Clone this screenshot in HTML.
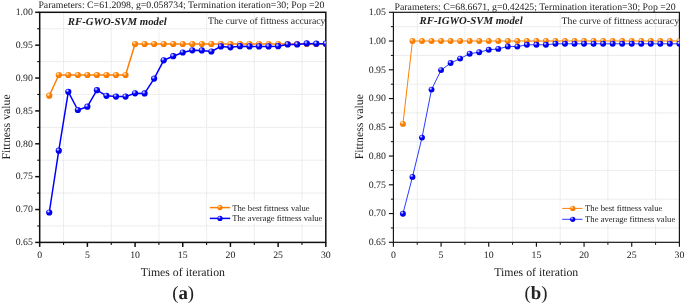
<!DOCTYPE html>
<html><head><meta charset="utf-8"><style>
html,body{margin:0;padding:0;background:#fff;}
svg{display:block;will-change:transform;}
text{font-family:"Liberation Serif", serif;fill:#222;text-rendering:geometricPrecision;}
.title{font-size:9.8px;}
.model{font-size:10.75px;font-weight:bold;font-style:italic;}
.curve{font-size:9.75px;}
.tick{font-size:9.8px;}
.leg{font-size:8.62px;}
.axt{font-size:11.8px;}
.lab{font-size:18.8px;}
.grid{stroke:#d8d8d8;stroke-width:0.9;stroke-dasharray:1 1;}
.ax{stroke:#111;}
</style></head><body>
<svg width="685" height="305" viewBox="0 0 685 305">
<defs>
<radialGradient id="go" cx="0.38" cy="0.35" r="0.65" fx="0.35" fy="0.3">
<stop offset="0" stop-color="#fff4e8"/><stop offset="0.22" stop-color="#ffc080"/><stop offset="0.45" stop-color="#ff8000"/><stop offset="1" stop-color="#f57800"/>
</radialGradient>
<radialGradient id="gb" cx="0.38" cy="0.35" r="0.65" fx="0.35" fy="0.3">
<stop offset="0" stop-color="#f0f0ff"/><stop offset="0.22" stop-color="#8080ff"/><stop offset="0.45" stop-color="#0000ff"/><stop offset="1" stop-color="#0000e0"/>
</radialGradient>
</defs>
<rect width="685" height="305" fill="#fff"/>
<line x1="63.54" y1="12.3" x2="63.54" y2="242.4" class="grid"/>
<line x1="111.23" y1="12.3" x2="111.23" y2="242.4" class="grid"/>
<line x1="158.91" y1="12.3" x2="158.91" y2="242.4" class="grid"/>
<line x1="206.59" y1="12.3" x2="206.59" y2="242.4" class="grid"/>
<line x1="254.28" y1="12.3" x2="254.28" y2="242.4" class="grid"/>
<line x1="301.96" y1="12.3" x2="301.96" y2="242.4" class="grid"/>
<line x1="39.7" y1="225.96" x2="325.8" y2="225.96" class="grid"/>
<line x1="39.7" y1="193.09" x2="325.8" y2="193.09" class="grid"/>
<line x1="39.7" y1="160.22" x2="325.8" y2="160.22" class="grid"/>
<line x1="39.7" y1="127.35" x2="325.8" y2="127.35" class="grid"/>
<line x1="39.7" y1="94.48" x2="325.8" y2="94.48" class="grid"/>
<line x1="39.7" y1="61.61" x2="325.8" y2="61.61" class="grid"/>
<line x1="39.7" y1="28.74" x2="325.8" y2="28.74" class="grid"/>
<line x1="39.7" y1="242.4" x2="39.7" y2="246.9" class="ax" stroke-width="1.5"/>
<line x1="63.54" y1="242.4" x2="63.54" y2="244.9" class="ax" stroke-width="1.1"/>
<text x="39.7" y="257.8" class="tick" text-anchor="middle">0</text>
<line x1="87.38" y1="242.4" x2="87.38" y2="246.9" class="ax" stroke-width="1.5"/>
<line x1="111.23" y1="242.4" x2="111.23" y2="244.9" class="ax" stroke-width="1.1"/>
<text x="87.38" y="257.8" class="tick" text-anchor="middle">5</text>
<line x1="135.07" y1="242.4" x2="135.07" y2="246.9" class="ax" stroke-width="1.5"/>
<line x1="158.91" y1="242.4" x2="158.91" y2="244.9" class="ax" stroke-width="1.1"/>
<text x="135.07" y="257.8" class="tick" text-anchor="middle">10</text>
<line x1="182.75" y1="242.4" x2="182.75" y2="246.9" class="ax" stroke-width="1.5"/>
<line x1="206.59" y1="242.4" x2="206.59" y2="244.9" class="ax" stroke-width="1.1"/>
<text x="182.75" y="257.8" class="tick" text-anchor="middle">15</text>
<line x1="230.43" y1="242.4" x2="230.43" y2="246.9" class="ax" stroke-width="1.5"/>
<line x1="254.28" y1="242.4" x2="254.28" y2="244.9" class="ax" stroke-width="1.1"/>
<text x="230.43" y="257.8" class="tick" text-anchor="middle">20</text>
<line x1="278.12" y1="242.4" x2="278.12" y2="246.9" class="ax" stroke-width="1.5"/>
<line x1="301.96" y1="242.4" x2="301.96" y2="244.9" class="ax" stroke-width="1.1"/>
<text x="278.12" y="257.8" class="tick" text-anchor="middle">25</text>
<line x1="325.8" y1="242.4" x2="325.8" y2="246.9" class="ax" stroke-width="1.5"/>
<text x="325.8" y="257.8" class="tick" text-anchor="middle">30</text>
<line x1="35.2" y1="242.4" x2="39.7" y2="242.4" class="ax" stroke-width="1.5"/>
<line x1="37.2" y1="225.96" x2="39.7" y2="225.96" class="ax" stroke-width="1.1"/>
<text x="32.8" y="245.2" class="tick" text-anchor="end">0.65</text>
<line x1="35.2" y1="209.53" x2="39.7" y2="209.53" class="ax" stroke-width="1.5"/>
<line x1="37.2" y1="193.09" x2="39.7" y2="193.09" class="ax" stroke-width="1.1"/>
<text x="32.8" y="212.33" class="tick" text-anchor="end">0.70</text>
<line x1="35.2" y1="176.66" x2="39.7" y2="176.66" class="ax" stroke-width="1.5"/>
<line x1="37.2" y1="160.22" x2="39.7" y2="160.22" class="ax" stroke-width="1.1"/>
<text x="32.8" y="179.46" class="tick" text-anchor="end">0.75</text>
<line x1="35.2" y1="143.79" x2="39.7" y2="143.79" class="ax" stroke-width="1.5"/>
<line x1="37.2" y1="127.35" x2="39.7" y2="127.35" class="ax" stroke-width="1.1"/>
<text x="32.8" y="146.59" class="tick" text-anchor="end">0.80</text>
<line x1="35.2" y1="110.91" x2="39.7" y2="110.91" class="ax" stroke-width="1.5"/>
<line x1="37.2" y1="94.48" x2="39.7" y2="94.48" class="ax" stroke-width="1.1"/>
<text x="32.8" y="113.71" class="tick" text-anchor="end">0.85</text>
<line x1="35.2" y1="78.04" x2="39.7" y2="78.04" class="ax" stroke-width="1.5"/>
<line x1="37.2" y1="61.61" x2="39.7" y2="61.61" class="ax" stroke-width="1.1"/>
<text x="32.8" y="80.84" class="tick" text-anchor="end">0.90</text>
<line x1="35.2" y1="45.17" x2="39.7" y2="45.17" class="ax" stroke-width="1.5"/>
<line x1="37.2" y1="28.74" x2="39.7" y2="28.74" class="ax" stroke-width="1.1"/>
<text x="32.8" y="47.97" class="tick" text-anchor="end">0.95</text>
<line x1="35.2" y1="12.3" x2="39.7" y2="12.3" class="ax" stroke-width="1.5"/>
<text x="32.8" y="15.1" class="tick" text-anchor="end">1.00</text>
<rect x="207.5" y="200.5" width="117" height="23.5" fill="#fff"/>
<rect x="39.7" y="12.3" width="286.1" height="230.1" fill="none" class="ax" stroke-width="1.5"/>
<clipPath id="ca"><rect x="39.7" y="12.3" width="286.1" height="230.1"/></clipPath>
<g clip-path="url(#ca)"><polyline points="49.24,95.7 58.77,75 68.31,75 77.85,75 87.38,75 96.92,75 106.46,75 115.99,75 125.53,75 135.07,44 144.6,44 154.14,44 163.68,44 173.21,44 182.75,44 192.29,44 201.82,44 211.36,44 220.9,44 230.43,44 239.97,44 249.51,44 259.04,44 268.58,44 278.12,44 287.65,44 297.19,44 306.73,44 316.26,44 325.8,44" fill="none" stroke="#ff8000" stroke-width="1.5" stroke-linejoin="round"/>
<circle cx="49.24" cy="95.7" r="3.1" fill="url(#go)"/>
<circle cx="58.77" cy="75" r="3.1" fill="url(#go)"/>
<circle cx="68.31" cy="75" r="3.1" fill="url(#go)"/>
<circle cx="77.85" cy="75" r="3.1" fill="url(#go)"/>
<circle cx="87.38" cy="75" r="3.1" fill="url(#go)"/>
<circle cx="96.92" cy="75" r="3.1" fill="url(#go)"/>
<circle cx="106.46" cy="75" r="3.1" fill="url(#go)"/>
<circle cx="115.99" cy="75" r="3.1" fill="url(#go)"/>
<circle cx="125.53" cy="75" r="3.1" fill="url(#go)"/>
<circle cx="135.07" cy="44" r="3.1" fill="url(#go)"/>
<circle cx="144.6" cy="44" r="3.1" fill="url(#go)"/>
<circle cx="154.14" cy="44" r="3.1" fill="url(#go)"/>
<circle cx="163.68" cy="44" r="3.1" fill="url(#go)"/>
<circle cx="173.21" cy="44" r="3.1" fill="url(#go)"/>
<circle cx="182.75" cy="44" r="3.1" fill="url(#go)"/>
<circle cx="192.29" cy="44" r="3.1" fill="url(#go)"/>
<circle cx="201.82" cy="44" r="3.1" fill="url(#go)"/>
<circle cx="211.36" cy="44" r="3.1" fill="url(#go)"/>
<circle cx="220.9" cy="44" r="3.1" fill="url(#go)"/>
<circle cx="230.43" cy="44" r="3.1" fill="url(#go)"/>
<circle cx="239.97" cy="44" r="3.1" fill="url(#go)"/>
<circle cx="249.51" cy="44" r="3.1" fill="url(#go)"/>
<circle cx="259.04" cy="44" r="3.1" fill="url(#go)"/>
<circle cx="268.58" cy="44" r="3.1" fill="url(#go)"/>
<circle cx="278.12" cy="44" r="3.1" fill="url(#go)"/>
<circle cx="287.65" cy="44" r="3.1" fill="url(#go)"/>
<circle cx="297.19" cy="44" r="3.1" fill="url(#go)"/>
<circle cx="306.73" cy="44" r="3.1" fill="url(#go)"/>
<circle cx="316.26" cy="44" r="3.1" fill="url(#go)"/>
<circle cx="325.8" cy="44" r="3.1" fill="url(#go)"/>
</g>
<g clip-path="url(#ca)"><polyline points="49.24,212.5 58.77,150.7 68.31,91.8 77.85,110 87.38,106.7 96.92,90.2 106.46,95.8 115.99,96.6 125.53,96.6 135.07,93.3 144.6,93.4 154.14,78.6 163.68,60.3 173.21,56.2 182.75,52.5 192.29,50.3 201.82,50.4 211.36,51.5 220.9,46.4 230.43,47.3 239.97,46.2 249.51,46.4 259.04,46.4 268.58,46.4 278.12,46.2 287.65,44.4 297.19,44.4 306.73,43.4 316.26,43.7 325.8,43.7" fill="none" stroke="#0000ff" stroke-width="1.5" stroke-linejoin="round"/>
<circle cx="49.24" cy="212.5" r="3.1" fill="url(#gb)"/>
<circle cx="58.77" cy="150.7" r="3.1" fill="url(#gb)"/>
<circle cx="68.31" cy="91.8" r="3.1" fill="url(#gb)"/>
<circle cx="77.85" cy="110" r="3.1" fill="url(#gb)"/>
<circle cx="87.38" cy="106.7" r="3.1" fill="url(#gb)"/>
<circle cx="96.92" cy="90.2" r="3.1" fill="url(#gb)"/>
<circle cx="106.46" cy="95.8" r="3.1" fill="url(#gb)"/>
<circle cx="115.99" cy="96.6" r="3.1" fill="url(#gb)"/>
<circle cx="125.53" cy="96.6" r="3.1" fill="url(#gb)"/>
<circle cx="135.07" cy="93.3" r="3.1" fill="url(#gb)"/>
<circle cx="144.6" cy="93.4" r="3.1" fill="url(#gb)"/>
<circle cx="154.14" cy="78.6" r="3.1" fill="url(#gb)"/>
<circle cx="163.68" cy="60.3" r="3.1" fill="url(#gb)"/>
<circle cx="173.21" cy="56.2" r="3.1" fill="url(#gb)"/>
<circle cx="182.75" cy="52.5" r="3.1" fill="url(#gb)"/>
<circle cx="192.29" cy="50.3" r="3.1" fill="url(#gb)"/>
<circle cx="201.82" cy="50.4" r="3.1" fill="url(#gb)"/>
<circle cx="211.36" cy="51.5" r="3.1" fill="url(#gb)"/>
<circle cx="220.9" cy="46.4" r="3.1" fill="url(#gb)"/>
<circle cx="230.43" cy="47.3" r="3.1" fill="url(#gb)"/>
<circle cx="239.97" cy="46.2" r="3.1" fill="url(#gb)"/>
<circle cx="249.51" cy="46.4" r="3.1" fill="url(#gb)"/>
<circle cx="259.04" cy="46.4" r="3.1" fill="url(#gb)"/>
<circle cx="268.58" cy="46.4" r="3.1" fill="url(#gb)"/>
<circle cx="278.12" cy="46.2" r="3.1" fill="url(#gb)"/>
<circle cx="287.65" cy="44.4" r="3.1" fill="url(#gb)"/>
<circle cx="297.19" cy="44.4" r="3.1" fill="url(#gb)"/>
<circle cx="306.73" cy="43.4" r="3.1" fill="url(#gb)"/>
<circle cx="316.26" cy="43.7" r="3.1" fill="url(#gb)"/>
<circle cx="325.8" cy="43.7" r="3.1" fill="url(#gb)"/>
</g>
<line x1="209.8" y1="207.6" x2="230.2" y2="207.6" stroke="#ff8000" stroke-width="1.5"/>
<circle cx="220" cy="207.6" r="2.6" fill="url(#go)"/>
<text x="232.3" y="210.7" class="leg">The best fittness value</text>
<line x1="209.8" y1="218.4" x2="230.2" y2="218.4" stroke="#0000ff" stroke-width="1.5"/>
<circle cx="220" cy="218.4" r="2.6" fill="url(#gb)"/>
<text x="232.3" y="221.4" class="leg">The average fittness value</text>
<text x="38.4" y="8.0" class="title">Parameters: C=61.2098, g=0.058734; Termination iteration=30; Pop =20</text>
<text x="67.8" y="24.7" class="model">RF-GWO-SVM model</text>
<g clip-path="url(#ca)"><text x="208.0" y="24.3" class="curve">The curve of fittness accuracy</text></g>
<text x="182.9" y="276.3" class="axt" text-anchor="middle">Times of iteration</text>
<text transform="translate(9.8,126.9) rotate(-90)" x="0" y="0" class="axt" text-anchor="middle">Fittness value</text>
<text x="183.1" y="299.0" class="lab" text-anchor="middle">(<tspan font-weight="bold">a</tspan>)</text>
<line x1="417.23" y1="12.3" x2="417.23" y2="242.3" class="grid"/>
<line x1="464.9" y1="12.3" x2="464.9" y2="242.3" class="grid"/>
<line x1="512.57" y1="12.3" x2="512.57" y2="242.3" class="grid"/>
<line x1="560.23" y1="12.3" x2="560.23" y2="242.3" class="grid"/>
<line x1="607.9" y1="12.3" x2="607.9" y2="242.3" class="grid"/>
<line x1="655.57" y1="12.3" x2="655.57" y2="242.3" class="grid"/>
<line x1="393.4" y1="227.93" x2="679.4" y2="227.93" class="grid"/>
<line x1="393.4" y1="199.17" x2="679.4" y2="199.17" class="grid"/>
<line x1="393.4" y1="170.43" x2="679.4" y2="170.43" class="grid"/>
<line x1="393.4" y1="141.68" x2="679.4" y2="141.68" class="grid"/>
<line x1="393.4" y1="112.93" x2="679.4" y2="112.93" class="grid"/>
<line x1="393.4" y1="84.18" x2="679.4" y2="84.18" class="grid"/>
<line x1="393.4" y1="55.42" x2="679.4" y2="55.42" class="grid"/>
<line x1="393.4" y1="26.67" x2="679.4" y2="26.67" class="grid"/>
<line x1="393.4" y1="242.3" x2="393.4" y2="246.8" class="ax" stroke-width="1.15"/>
<line x1="417.23" y1="242.3" x2="417.23" y2="244.8" class="ax" stroke-width="1.0"/>
<text x="393.4" y="257.5" class="tick" text-anchor="middle">0</text>
<line x1="441.07" y1="242.3" x2="441.07" y2="246.8" class="ax" stroke-width="1.15"/>
<line x1="464.9" y1="242.3" x2="464.9" y2="244.8" class="ax" stroke-width="1.0"/>
<text x="441.07" y="257.5" class="tick" text-anchor="middle">5</text>
<line x1="488.73" y1="242.3" x2="488.73" y2="246.8" class="ax" stroke-width="1.15"/>
<line x1="512.57" y1="242.3" x2="512.57" y2="244.8" class="ax" stroke-width="1.0"/>
<text x="488.73" y="257.5" class="tick" text-anchor="middle">10</text>
<line x1="536.4" y1="242.3" x2="536.4" y2="246.8" class="ax" stroke-width="1.15"/>
<line x1="560.23" y1="242.3" x2="560.23" y2="244.8" class="ax" stroke-width="1.0"/>
<text x="536.4" y="257.5" class="tick" text-anchor="middle">15</text>
<line x1="584.07" y1="242.3" x2="584.07" y2="246.8" class="ax" stroke-width="1.15"/>
<line x1="607.9" y1="242.3" x2="607.9" y2="244.8" class="ax" stroke-width="1.0"/>
<text x="584.07" y="257.5" class="tick" text-anchor="middle">20</text>
<line x1="631.73" y1="242.3" x2="631.73" y2="246.8" class="ax" stroke-width="1.15"/>
<line x1="655.57" y1="242.3" x2="655.57" y2="244.8" class="ax" stroke-width="1.0"/>
<text x="631.73" y="257.5" class="tick" text-anchor="middle">25</text>
<line x1="679.4" y1="242.3" x2="679.4" y2="246.8" class="ax" stroke-width="1.15"/>
<text x="679.4" y="257.5" class="tick" text-anchor="middle">30</text>
<line x1="388.9" y1="242.3" x2="393.4" y2="242.3" class="ax" stroke-width="1.15"/>
<line x1="390.9" y1="227.93" x2="393.4" y2="227.93" class="ax" stroke-width="1.0"/>
<text x="385.9" y="245.1" class="tick" text-anchor="end">0.65</text>
<line x1="388.9" y1="213.55" x2="393.4" y2="213.55" class="ax" stroke-width="1.15"/>
<line x1="390.9" y1="199.17" x2="393.4" y2="199.17" class="ax" stroke-width="1.0"/>
<text x="385.9" y="216.35" class="tick" text-anchor="end">0.70</text>
<line x1="388.9" y1="184.8" x2="393.4" y2="184.8" class="ax" stroke-width="1.15"/>
<line x1="390.9" y1="170.43" x2="393.4" y2="170.43" class="ax" stroke-width="1.0"/>
<text x="385.9" y="187.6" class="tick" text-anchor="end">0.75</text>
<line x1="388.9" y1="156.05" x2="393.4" y2="156.05" class="ax" stroke-width="1.15"/>
<line x1="390.9" y1="141.68" x2="393.4" y2="141.68" class="ax" stroke-width="1.0"/>
<text x="385.9" y="158.85" class="tick" text-anchor="end">0.80</text>
<line x1="388.9" y1="127.3" x2="393.4" y2="127.3" class="ax" stroke-width="1.15"/>
<line x1="390.9" y1="112.92" x2="393.4" y2="112.92" class="ax" stroke-width="1.0"/>
<text x="385.9" y="130.1" class="tick" text-anchor="end">0.85</text>
<line x1="388.9" y1="98.55" x2="393.4" y2="98.55" class="ax" stroke-width="1.15"/>
<line x1="390.9" y1="84.18" x2="393.4" y2="84.18" class="ax" stroke-width="1.0"/>
<text x="385.9" y="101.35" class="tick" text-anchor="end">0.90</text>
<line x1="388.9" y1="69.8" x2="393.4" y2="69.8" class="ax" stroke-width="1.15"/>
<line x1="390.9" y1="55.42" x2="393.4" y2="55.42" class="ax" stroke-width="1.0"/>
<text x="385.9" y="72.6" class="tick" text-anchor="end">0.95</text>
<line x1="388.9" y1="41.05" x2="393.4" y2="41.05" class="ax" stroke-width="1.15"/>
<line x1="390.9" y1="26.68" x2="393.4" y2="26.68" class="ax" stroke-width="1.0"/>
<text x="385.9" y="43.85" class="tick" text-anchor="end">1.00</text>
<line x1="388.9" y1="12.3" x2="393.4" y2="12.3" class="ax" stroke-width="1.15"/>
<text x="385.9" y="15.1" class="tick" text-anchor="end">1.05</text>
<rect x="560.5" y="200.5" width="118" height="23.5" fill="#fff"/>
<rect x="393.4" y="12.3" width="286" height="230" fill="none" class="ax" stroke-width="1.15"/>
<clipPath id="cb"><rect x="393.4" y="12.3" width="286" height="230"/></clipPath>
<g clip-path="url(#cb)"><polyline points="402.93,123.9 412.47,41 422,41 431.53,41 441.07,41 450.6,41 460.13,41 469.67,41 479.2,41 488.73,41 498.27,41 507.8,41 517.33,41 526.87,41 536.4,41 545.93,41 555.47,41 565,41 574.53,41 584.07,41 593.6,41 603.13,41 612.67,41 622.2,41 631.73,41 641.27,41 650.8,41 660.33,41 669.87,41 679.4,41" fill="none" stroke="#ff8000" stroke-width="1.0" stroke-linejoin="round"/>
<circle cx="402.93" cy="123.9" r="2.95" fill="url(#go)"/>
<circle cx="412.47" cy="41" r="2.95" fill="url(#go)"/>
<circle cx="422" cy="41" r="2.95" fill="url(#go)"/>
<circle cx="431.53" cy="41" r="2.95" fill="url(#go)"/>
<circle cx="441.07" cy="41" r="2.95" fill="url(#go)"/>
<circle cx="450.6" cy="41" r="2.95" fill="url(#go)"/>
<circle cx="460.13" cy="41" r="2.95" fill="url(#go)"/>
<circle cx="469.67" cy="41" r="2.95" fill="url(#go)"/>
<circle cx="479.2" cy="41" r="2.95" fill="url(#go)"/>
<circle cx="488.73" cy="41" r="2.95" fill="url(#go)"/>
<circle cx="498.27" cy="41" r="2.95" fill="url(#go)"/>
<circle cx="507.8" cy="41" r="2.95" fill="url(#go)"/>
<circle cx="517.33" cy="41" r="2.95" fill="url(#go)"/>
<circle cx="526.87" cy="41" r="2.95" fill="url(#go)"/>
<circle cx="536.4" cy="41" r="2.95" fill="url(#go)"/>
<circle cx="545.93" cy="41" r="2.95" fill="url(#go)"/>
<circle cx="555.47" cy="41" r="2.95" fill="url(#go)"/>
<circle cx="565" cy="41" r="2.95" fill="url(#go)"/>
<circle cx="574.53" cy="41" r="2.95" fill="url(#go)"/>
<circle cx="584.07" cy="41" r="2.95" fill="url(#go)"/>
<circle cx="593.6" cy="41" r="2.95" fill="url(#go)"/>
<circle cx="603.13" cy="41" r="2.95" fill="url(#go)"/>
<circle cx="612.67" cy="41" r="2.95" fill="url(#go)"/>
<circle cx="622.2" cy="41" r="2.95" fill="url(#go)"/>
<circle cx="631.73" cy="41" r="2.95" fill="url(#go)"/>
<circle cx="641.27" cy="41" r="2.95" fill="url(#go)"/>
<circle cx="650.8" cy="41" r="2.95" fill="url(#go)"/>
<circle cx="660.33" cy="41" r="2.95" fill="url(#go)"/>
<circle cx="669.87" cy="41" r="2.95" fill="url(#go)"/>
<circle cx="679.4" cy="41" r="2.95" fill="url(#go)"/>
</g>
<g clip-path="url(#cb)"><polyline points="402.93,213.7 412.47,176.9 422,137.6 431.53,89.6 441.07,70.1 450.6,63 460.13,58.6 469.67,53.7 479.2,52.2 488.73,49.8 498.27,48.9 507.8,46.5 517.33,46.6 526.87,44.8 536.4,44.8 545.93,44.8 555.47,43.8 565,43.8 574.53,43.8 584.07,43.8 593.6,43.8 603.13,43.8 612.67,43.8 622.2,43.8 631.73,43.8 641.27,43.8 650.8,43.8 660.33,43.8 669.87,43.8 679.4,43.8" fill="none" stroke="#2a3cff" stroke-width="1.0" stroke-linejoin="round"/>
<circle cx="402.93" cy="213.7" r="2.95" fill="url(#gb)"/>
<circle cx="412.47" cy="176.9" r="2.95" fill="url(#gb)"/>
<circle cx="422" cy="137.6" r="2.95" fill="url(#gb)"/>
<circle cx="431.53" cy="89.6" r="2.95" fill="url(#gb)"/>
<circle cx="441.07" cy="70.1" r="2.95" fill="url(#gb)"/>
<circle cx="450.6" cy="63" r="2.95" fill="url(#gb)"/>
<circle cx="460.13" cy="58.6" r="2.95" fill="url(#gb)"/>
<circle cx="469.67" cy="53.7" r="2.95" fill="url(#gb)"/>
<circle cx="479.2" cy="52.2" r="2.95" fill="url(#gb)"/>
<circle cx="488.73" cy="49.8" r="2.95" fill="url(#gb)"/>
<circle cx="498.27" cy="48.9" r="2.95" fill="url(#gb)"/>
<circle cx="507.8" cy="46.5" r="2.95" fill="url(#gb)"/>
<circle cx="517.33" cy="46.6" r="2.95" fill="url(#gb)"/>
<circle cx="526.87" cy="44.8" r="2.95" fill="url(#gb)"/>
<circle cx="536.4" cy="44.8" r="2.95" fill="url(#gb)"/>
<circle cx="545.93" cy="44.8" r="2.95" fill="url(#gb)"/>
<circle cx="555.47" cy="43.8" r="2.95" fill="url(#gb)"/>
<circle cx="565" cy="43.8" r="2.95" fill="url(#gb)"/>
<circle cx="574.53" cy="43.8" r="2.95" fill="url(#gb)"/>
<circle cx="584.07" cy="43.8" r="2.95" fill="url(#gb)"/>
<circle cx="593.6" cy="43.8" r="2.95" fill="url(#gb)"/>
<circle cx="603.13" cy="43.8" r="2.95" fill="url(#gb)"/>
<circle cx="612.67" cy="43.8" r="2.95" fill="url(#gb)"/>
<circle cx="622.2" cy="43.8" r="2.95" fill="url(#gb)"/>
<circle cx="631.73" cy="43.8" r="2.95" fill="url(#gb)"/>
<circle cx="641.27" cy="43.8" r="2.95" fill="url(#gb)"/>
<circle cx="650.8" cy="43.8" r="2.95" fill="url(#gb)"/>
<circle cx="660.33" cy="43.8" r="2.95" fill="url(#gb)"/>
<circle cx="669.87" cy="43.8" r="2.95" fill="url(#gb)"/>
<circle cx="679.4" cy="43.8" r="2.95" fill="url(#gb)"/>
</g>
<line x1="562.2" y1="208.4" x2="582.5" y2="208.4" stroke="#ff8000" stroke-width="1.0"/>
<circle cx="572.7" cy="208.4" r="2.6" fill="url(#go)"/>
<text x="585.1" y="211.4" class="leg">The best fittness value</text>
<line x1="562.2" y1="219.3" x2="582.5" y2="219.3" stroke="#2a3cff" stroke-width="1.0"/>
<circle cx="572.7" cy="219.3" r="2.6" fill="url(#gb)"/>
<text x="585.1" y="222.2" class="leg">The average fittness value</text>
<text x="394.5" y="10.0" class="title">Parameters: C=68.6671, g=0.42425; Termination iteration=30; Pop =20</text>
<text x="419.6" y="23.9" class="model">RF-IGWO-SVM model</text>
<g clip-path="url(#cb)"><text x="561.6" y="23.9" class="curve">The curve of fittness accuracy</text></g>
<text x="536.2" y="276.3" class="axt" text-anchor="middle">Times of iteration</text>
<text transform="translate(362.8,126.7) rotate(-90)" x="0" y="0" class="axt" text-anchor="middle">Fittness value</text>
<text x="536.0" y="299.0" class="lab" text-anchor="middle">(<tspan font-weight="bold">b</tspan>)</text>
</svg>
</body></html>
